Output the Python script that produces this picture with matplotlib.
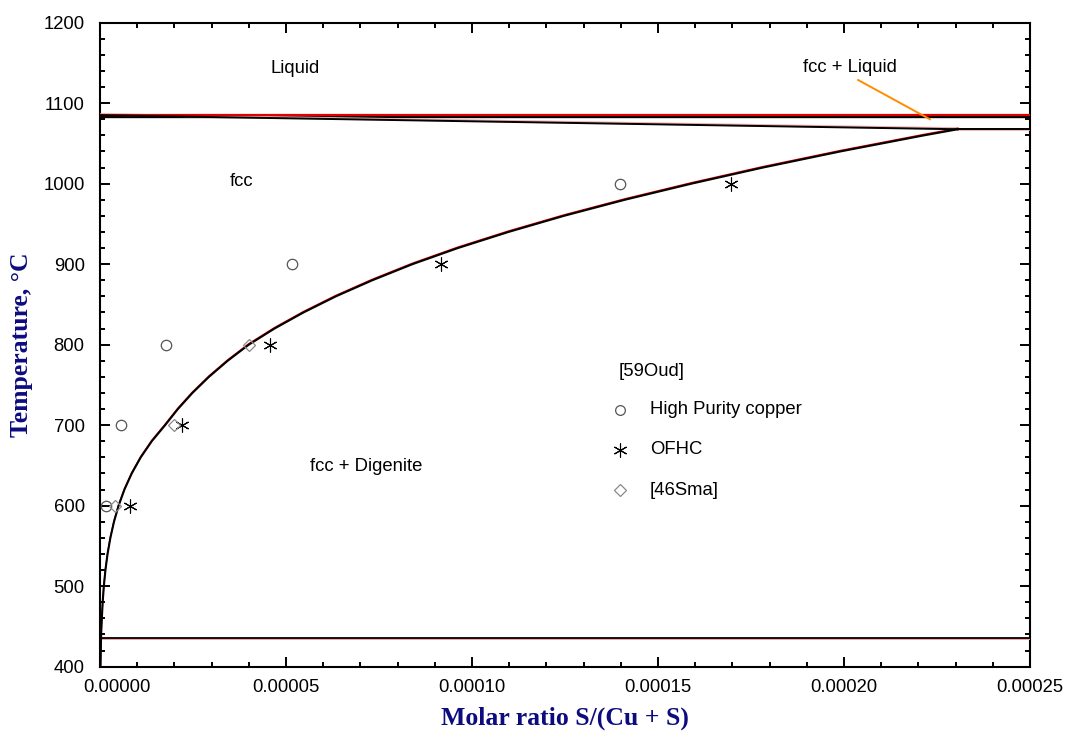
import numpy as np
import matplotlib.pyplot as plt
from matplotlib.ticker import MultipleLocator
from matplotlib.transforms import ScaledTranslation

plt.rcParams['font.family'] = ['Liberation Sans', 'DejaVu Sans']

# Solvus of fcc (Cu) against digenite (x in units of 1e-5)
solvus_x = [0.013, 0.021, 0.030, 0.049, 0.072, 0.103, 0.146, 0.203, 0.279, 0.376, 0.50,
            0.657, 0.853, 1.095, 1.391, 1.75, 2.093, 2.484, 2.929, 3.433, 4.0,
            4.69, 5.47, 6.34, 7.32, 8.4, 9.62, 10.98, 12.47, 14.11, 15.9,
            17.82, 19.90, 22.15, 23.06]
solvus_t = [400, 420, 440, 460, 480, 500, 520, 540, 560, 580, 600,
            620, 640, 660, 680, 700, 720, 740, 760, 780, 800,
            820, 840, 860, 880, 900, 920, 940, 960, 980, 1000,
            1020, 1040, 1060, 1067.6]

# solidus and invariant lines
solidus_x = [0.0, 23.06]
solidus_t = [1085, 1067.6]
eutectic_x = [23.06, 25.0]
eutectic_t = [1067.6, 1067.6]
liquidus_t = 1085
digenite_t = 436

# [59Oud] experimental points
hp_x = [0.16, 0.56, 1.77, 5.16, 13.98]
hp_t = [600, 700, 800, 900, 1000]
ofhc_x = [0.81, 2.2, 4.57, 9.17, 16.96]
ofhc_t = [600, 700, 800, 900, 1000]
# [46Sma]
sma_x = [0.40, 2.0, 4.01]
sma_t = [600, 700, 800]

xticks = [0, 0.00005, 0.0001, 0.00015, 0.0002, 0.00025]
xticklabels = ['0.00000', '0.00005', '0.00010', '0.00015', '0.00020', '0.00025']
yticks = [400, 500, 600, 700, 800, 900, 1000, 1100, 1200]

scale = 1e-5
star = (6, 2, 0)
navy = '#0c0c7e'

fig = plt.figure(figsize=(10.65, 7.31), dpi=100)
ax = fig.add_axes([0.0939, 0.088, 0.8732, 0.881])

def sx(v):
    return np.array(v) * scale

# lines
x_full = [0, 0.00025]
ax.plot(x_full, [liquidus_t - 0.5] * 2, color='black', lw=2.4, zorder=3)
ax.plot(x_full, [liquidus_t + 0.2] * 2, color='#e00000', lw=1.6, zorder=4)

ax.plot(sx(solidus_x), [t + 0.9 for t in solidus_t], color='#f2a8a8', lw=1.8, zorder=3)
ax.plot(sx(solidus_x), solidus_t, color='black', lw=1.4, zorder=4)
ax.plot(sx(eutectic_x), [t + 0.9 for t in eutectic_t], color='#f2a8a8', lw=1.8, zorder=3)
ax.plot(sx(eutectic_x), eutectic_t, color='black', lw=1.4, zorder=4)

ax.plot(x_full, [digenite_t - 2] * 2, color='#f4a0a0', lw=1.4, zorder=3)
ax.plot(x_full, [digenite_t] * 2, color='black', lw=1.3, zorder=4)

ax.plot(sx(solvus_x), [t + 1.2 for t in solvus_t], color='#e00000', lw=1.0, zorder=3)
ax.plot(sx(solvus_x), solvus_t, color='black', lw=1.5, zorder=4)

# data points
ax.plot(sx(hp_x), hp_t, ls='none', marker='o', ms=7.5, mfc='none', mec='#555555', mew=0.9, zorder=5)
ax.plot(sx(ofhc_x), ofhc_t, ls='none', marker=star, ms=10, color='black', mew=0.8, zorder=5)
ax.plot(sx(sma_x), sma_t, ls='none', marker='D', ms=6, mfc='none', mec='#8a8a8a', mew=0.9, zorder=5)

# region labels
fs = 13.3
ax.text(5.24e-5, 1143, 'Liquid', fontsize=fs, ha='center', va='center')
ax.text(3.81e-5, 1002.5, 'fcc', fontsize=fs, ha='center', va='center')
ax.text(7.15e-5, 648.5, 'fcc + Digenite', fontsize=fs, ha='center', va='center')
ax.text(2.016e-4, 1143.7, 'fcc + Liquid', fontsize=fs, ha='center', va='center')
ax.plot([2.038e-4, 2.231e-4], [1128.8, 1080], color='#ff8c00', lw=1.4, zorder=6)

# legend drawn by hand
lx, tx = 0.559, 0.5914
ax.text(0.558, 0.458, '[59Oud]', transform=ax.transAxes, fontsize=fs, va='center')
ax.plot([lx], [0.3986], transform=ax.transAxes, marker='o', ms=7, mfc='none', mec='#555555', mew=0.9)
ax.text(tx, 0.3986, 'High Purity copper', transform=ax.transAxes, fontsize=fs, va='center')
ax.plot([lx], [0.3365], transform=ax.transAxes, marker=star, ms=10, color='black', mew=0.8)
ax.text(tx, 0.3365, 'OFHC', transform=ax.transAxes, fontsize=fs, va='center')
ax.plot([lx], [0.2743], transform=ax.transAxes, marker='D', ms=6, mfc='none', mec='#8a8a8a', mew=0.9)
ax.text(tx, 0.2743, '[46Sma]', transform=ax.transAxes, fontsize=fs, va='center')

# axes
ax.set_xlim(0, 0.00025)
ax.set_ylim(400, 1200)
ax.set_xticks(xticks)
ax.set_xticklabels(xticklabels)
ax.set_yticks(yticks)
ax.xaxis.set_minor_locator(MultipleLocator(0.00001))
ax.yaxis.set_minor_locator(MultipleLocator(20))
ax.tick_params(which='both', direction='in', top=True, right=True, width=1.4, labelsize=fs)
ax.tick_params(which='major', length=7.5)
ax.tick_params(which='minor', length=3.8)
ax.tick_params(axis='x', pad=9)
ax.tick_params(axis='y', pad=11)
for s in ax.spines.values():
    s.set_linewidth(1.5)

first = ax.get_xticklabels()[0]
first.set_transform(first.get_transform() + ScaledTranslation(0.17, 0, fig.dpi_scale_trans))

ax.set_xlabel('Molar ratio S/(Cu + S)', fontsize=18.5, fontweight='bold',
              family='Liberation Serif', color=navy)
ax.set_ylabel('Temperature, \u00b0C', fontsize=18.5, fontweight='bold',
              family='Liberation Serif', color=navy)
ax.xaxis.set_label_coords(0.5, -0.062)
ax.yaxis.set_label_coords(-0.072, 0.5)

fig.savefig('out.png', dpi=100)
